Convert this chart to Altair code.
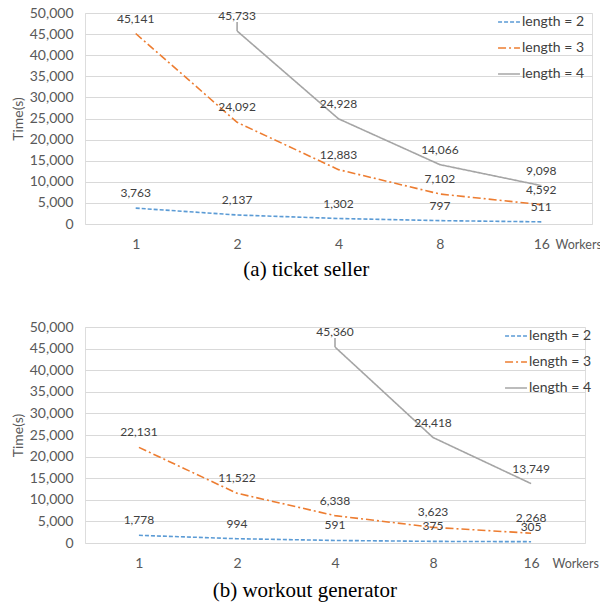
import altair as alt
import pandas as pd

workers = ["1", "2", "4", "8", "16"]
series_names = ["length = 2", "length = 3", "length = 4"]

a_len2 = [3763, 2137, 1302, 797, 511]
a_len3 = [45141, 24092, 12883, 7102, 4592]
a_len4 = [None, 45733, 24928, 14066, 9098]

b_len2 = [1778, 994, 591, 375, 305]
b_len3 = [22131, 11522, 6338, 3623, 2268]
b_len4 = [None, None, 45360, 24418, 13749]

y_ticks = list(range(0, 50001, 5000))

colors = ["#5B9BD5", "#ED7D31", "#A5A5A5"]
dashes = [[4, 2], [8, 3, 2, 3], [1, 0]]

TXT = "#404040"
AX = "#595959"


def make_df(s2, s3, s4):
    rows = []
    for name, vals in zip(series_names, [s2, s3, s4]):
        for i, (w, v) in enumerate(zip(workers, vals)):
            if v is not None:
                rows.append({"workers": w, "order": i, "series": name, "time": v})
    return pd.DataFrame(rows)


def panel(df, caption, width, height, xpad, lx, ly, cap_off, wx):
    leg = dict(orient="none", legendX=lx, legendY=ly, title=None,
               symbolType="stroke", symbolSize=480, symbolStrokeWidth=1.6,
               labelFont="Lato", labelFontSize=14, labelColor=TXT,
               rowPadding=7, labelOffset=1, padding=0)
    base = alt.Chart(df).encode(
        x=alt.X("workers:O", sort=workers,
                scale=alt.Scale(type="point", padding=xpad),
                axis=alt.Axis(title="Workers", labelAngle=0, domain=False, ticks=False,
                              grid=False, labelFont="Lato", labelFontSize=14,
                              labelColor=AX, labelPadding=13,
                              titleFont="Lato", titleFontSize=12.5, titleColor=AX,
                              titleFontWeight="normal", titleAngle=0,
                              titleAlign="left", titleBaseline="middle",
                              titleX=wx, titleY=20)),
        y=alt.Y("time:Q", scale=alt.Scale(domain=[0, 50000]),
                axis=alt.Axis(values=y_ticks, format=",d", title="Time(s)",
                              domain=False, ticks=False, gridColor="#D9D9D9",
                              labelFont="Lato", labelFontSize=14, labelColor=AX,
                              labelPadding=12, titleFont="Lato", titleFontSize=14,
                              titleColor=AX, titleFontWeight="normal",
                              titlePadding=4)),
    )
    lines = base.mark_line(strokeWidth=1.6).encode(
        color=alt.Color("series:N", scale=alt.Scale(domain=series_names, range=colors),
                        legend=alt.Legend(**leg)),
        strokeDash=alt.StrokeDash("series:N", scale=alt.Scale(domain=series_names, range=dashes),
                                  legend=alt.Legend(**leg)),
        order="order:Q",
    )
    leader = base.transform_window(
        rn="row_number()", groupby=["series"], sort=[alt.SortField("order")]
    ).transform_filter(
        "datum.series == 'length = 4' && datum.rn == 1"
    ).mark_rule(color="#A5A5A5", strokeWidth=1.6, y2Offset=-9).encode(y2="time:Q")
    labels = base.mark_text(dy=-15, font="Lato", fontSize=12, color=TXT).encode(
        text=alt.Text("time:Q", format=",d")
    )
    return alt.layer(lines, leader, labels).properties(
        width=width, height=height,
        title=alt.TitleParams(caption, orient="bottom", frame="bounds",
                              font="Liberation Serif", fontSize=21,
                              fontWeight="normal", color="#000", offset=cap_off),
    )


pa = panel(make_df(a_len2, a_len3, a_len4), "(a)  ticket seller",
           507, 211, 0.5, 412, -3, 8, 470)
pb = panel(make_df(b_len2, b_len3, b_len4), "(b)  workout generator",
           500, 216, 0.55, 419, -3, 10, 467)

chart = alt.vconcat(pa, pb, spacing=38).resolve_scale(
    x="independent", y="independent",
    color="independent", strokeDash="independent"
).resolve_legend(
    color="independent", strokeDash="independent"
).properties(padding={"left": 2, "top": -3, "right": -2, "bottom": 0}).configure_view(
    stroke=None
).configure(font="Lato")

chart.save("out.html", embed_options={"renderer": "svg", "actions": False})
